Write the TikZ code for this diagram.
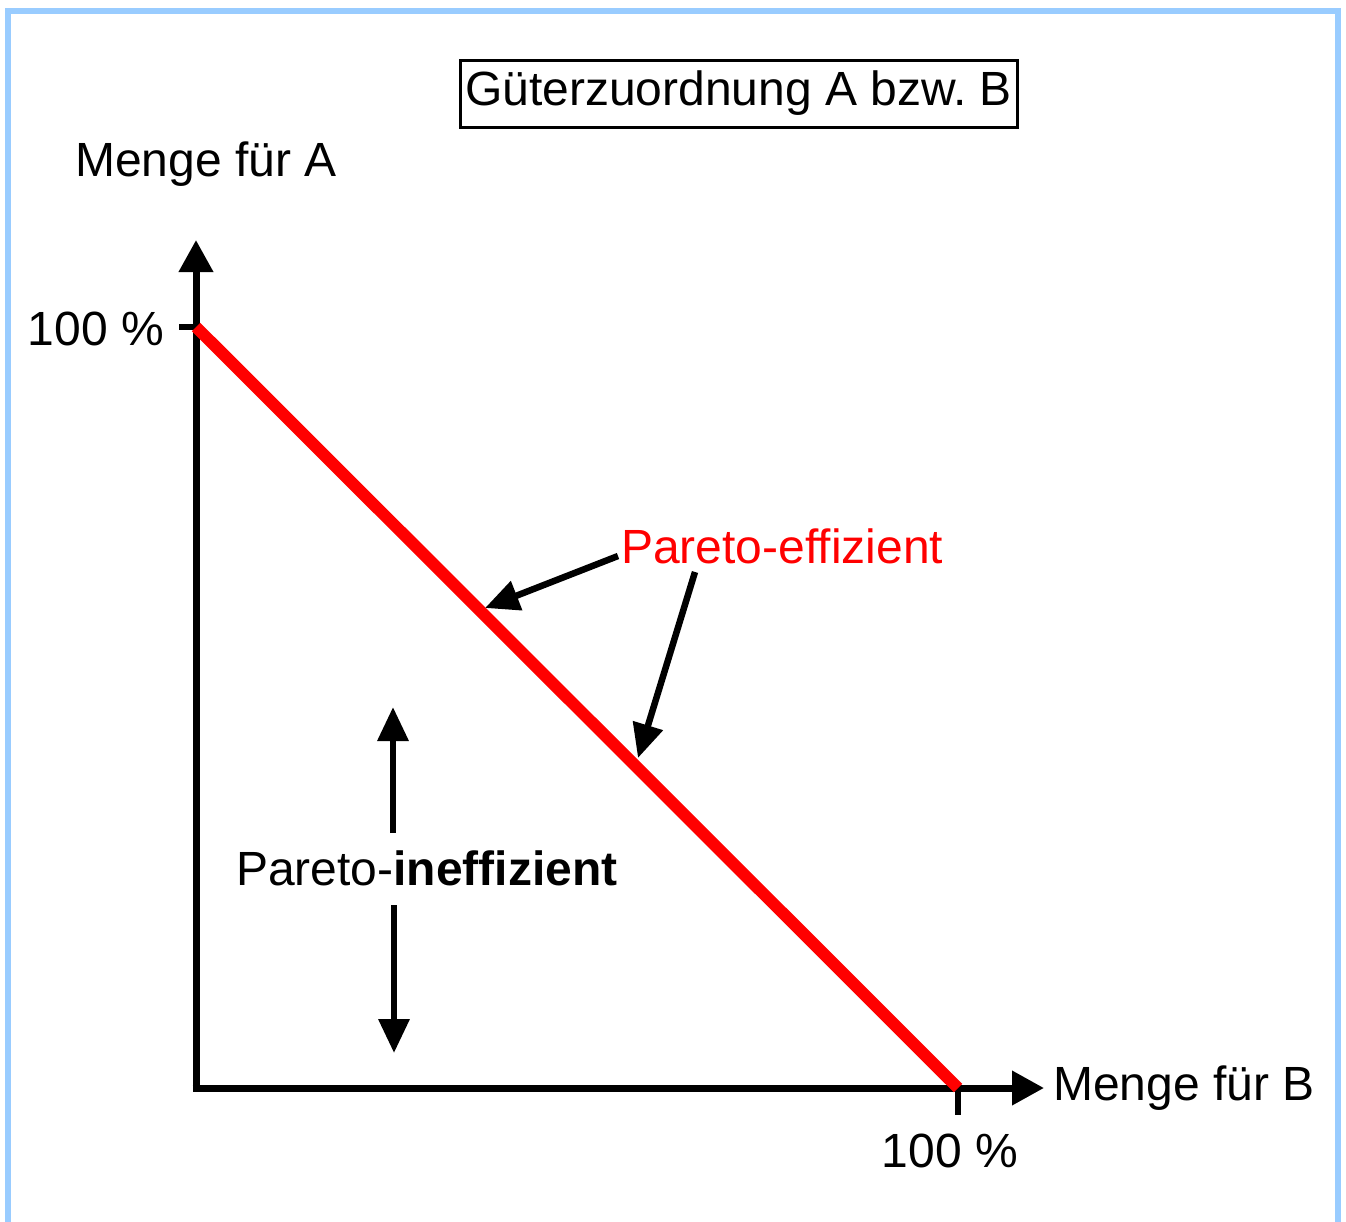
\documentclass[tikz,border=0pt]{standalone}
\usepackage{fontspec}
\setmainfont{Liberation Sans}
\frenchspacing
\usetikzlibrary{arrows.meta, positioning}
\definecolor{frameblue}{RGB}{153,204,255}
\tikzset{
    axisline/.style={
        line width=7pt,
        -{Triangle[length=32pt,width=33pt]}
    },
    hintarrow/.style={
        line width=6.5pt,
        -{Triangle[length=34pt,width=30pt]}
    },
    ticksym/.style={
        line width=6pt
    },
    frontier/.style={
        line width=12pt,
        draw=red
    },
    labeltext/.style={
        font=\fontsize{48}{57}\selectfont,
        inner sep=0pt
    }
}

\begin{document}
\begin{tikzpicture}[x=1pt, y=-1pt]
    \useasboundingbox (0,0) rectangle (1346,1221);
    \draw[frameblue, line width=6pt] (8,1225) -- (8,11) -- (1338,11) -- (1338,1225);

    % axes
    \coordinate (origin) at (196,1088);
    \coordinate (ytip) at (196,240);
    \coordinate (xtip) at (1044,1088);
    \coordinate (yhundred) at (196,327);
    \coordinate (xhundred) at (958,1088);
    \coordinate (ytick) at (179,327);
    \coordinate (xtick) at (958,1115);

    \node[labeltext, draw, line width=3pt, minimum width=557pt, minimum height=67pt] (title) at (738.5,93.5) {Güterzuordnung A bzw. B};
    \node[labeltext] (ylabel) at (206,164) {Menge für A};
    \node[labeltext, anchor=east] (ypct) at (164,329) {100 \%};
    \node[labeltext, anchor=west] (xlabel) at (1053,1088) {Menge für B};
    \node[labeltext] (xpct) at (950,1151) {100 \%};

    \draw[ticksym] (ytick) -- (yhundred);
    \draw[ticksym] (xhundred) -- (xtick);
    \draw[axisline] ([yshift=3.5pt]origin) -- (ytip);
    \draw[axisline] ([xshift=-3.5pt]origin) -- (xtip);
    \draw[frontier] (yhundred) -- (xhundred);

    % labels on the frontier
    \node[labeltext, text=red, anchor=west] (eff) at (621,546) {Pareto-effizient};
    \coordinate (efftipa) at (485,608);
    \coordinate (efftipb) at (638,758);
    \draw[hintarrow] (618,556) -- (efftipa);
    \draw[hintarrow] (695,572) -- (efftipb);

    \node[labeltext, anchor=west] (ineff) at (236,868) {Pareto-\textbf{ineffizient}};
    \coordinate (ineffup) at (393,707);
    \coordinate (ineffdown) at (394,1053);
    \draw[hintarrow] (393,833) -- (ineffup);
    \draw[hintarrow] (394,905) -- (ineffdown);
\end{tikzpicture}
\end{document}
